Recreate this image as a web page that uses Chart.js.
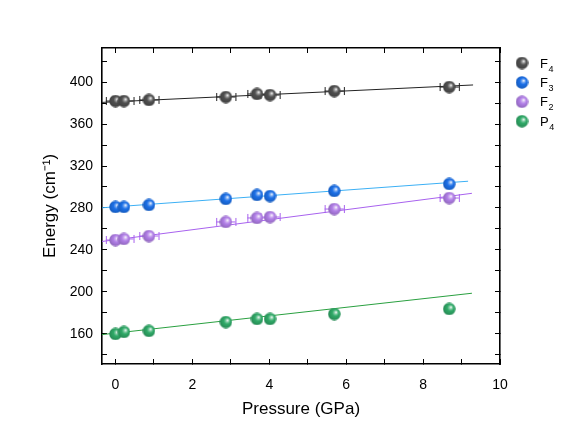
<!DOCTYPE html>
<html>
<head>
<meta charset="utf-8">
<script src="https://cdn.jsdelivr.net/npm/chart.js@4.4.1/dist/chart.umd.min.js"></script>
<style>
    html, body { margin: 0; padding: 0; background: #fff; }
    #wrap { width: 581px; height: 439px; }
</style>
</head>
<body>
<div id="wrap"><canvas id="energyChart" width="581" height="439"></canvas></div>
<script>
// ======================= Data =======================
const pressureF4 = [0, 0.22, 0.87, 2.87, 3.68, 4.02, 5.69, 8.68];
const energyF4   = [381.9, 381.9, 382.9, 385.7, 388.6, 387.6, 391.4, 395.2];
const xErrF4     = [0.25, 0.25, 0.25, 0.25, 0.25, 0.25, 0.25, 0.25];

const pressureF3 = [0, 0.22, 0.87, 2.87, 3.68, 4.02, 5.69, 8.68];
const energyF3   = [281.0, 281.0, 282.9, 288.6, 292.4, 291.4, 296.2, 302.9];

const pressureF2 = [0, 0.22, 0.87, 2.87, 3.68, 4.02, 5.69, 8.68];
const energyF2   = [249.5, 250.5, 253.3, 266.7, 270.5, 271.4, 279.0, 289.5];
const xErrF2     = [0.25, 0.25, 0.25, 0.25, 0.25, 0.25, 0.25, 0.25];

const pressureP4 = [0, 0.22, 0.87, 2.87, 3.68, 4.02, 5.69, 8.68];
const energyP4   = [160.0, 161.9, 162.9, 171.4, 174.3, 174.3, 179.0, 183.8];

// linear fits, end points
const fitXF4 = [-0.35, 9.3],  fitYF4 = [380.6, 397.2];
const fitXF3 = [-0.35, 9.17], fitYF3 = [280.2, 305.5];
const fitXF2 = [-0.35, 9.27], fitYF2 = [248.1, 294.0];
const fitXP4 = [-0.35, 9.27], fitYP4 = [159.4, 198.8];

const seriesNames = ["F", "F", "F", "P"];
const seriesSubs  = ["4", "3", "2", "4"];
const markerColors = ["#505050", "#1c70e8", "#b27fe8", "#30aa68"];
const lineColors   = ["#222222", "#3cb0f5", "#a862ee", "#2aa040"];

const xTickLabels = [0, 2, 4, 6, 8, 10];
const yTickLabels = [160, 200, 240, 280, 320, 360, 400];

// ======================= Helpers =======================
function toPoints(xs, ys) {
    return xs.map((x, i) => ({ x: x, y: ys[i] }));
}

function shade(hex, f) {
    const n = parseInt(hex.slice(1), 16);
    const r = Math.round(((n >> 16) & 255) * f);
    const g = Math.round(((n >> 8) & 255) * f);
    const b = Math.round((n & 255) * f);
    return `rgb(${r},${g},${b})`;
}

function tint(hex, f) {
    const n = parseInt(hex.slice(1), 16);
    const mix = v => Math.round(v + (255 - v) * f);
    return `rgb(${mix((n >> 16) & 255)},${mix((n >> 8) & 255)},${mix(n & 255)})`;
}

// shiny ball marker
function sphere(color, size) {
    const c = document.createElement("canvas");
    c.width = size; c.height = size;
    const g = c.getContext("2d");
    const r = size / 2;
    const grad = g.createRadialGradient(r + 1.8, r - 1.8, 0.2, r + 0.5, r - 0.5, r + 0.5);
    grad.addColorStop(0, "#ffffff");
    grad.addColorStop(0.18, tint(color, 0.45));
    grad.addColorStop(0.45, color);
    grad.addColorStop(1, shade(color, 0.8));
    g.fillStyle = grad;
    g.beginPath();
    g.arc(r, r, r - 0.3, 0, Math.PI * 2);
    g.fill();
    return c;
}

const spheres = markerColors.map(c => sphere(c, 13));

function fitSet(xs, ys, color) {
    return {
        type: "line",
        data: toPoints(xs, ys),
        borderColor: color,
        borderWidth: 1,
        pointRadius: 0,
        fill: false,
        order: 5
    };
}

function markerSet(label, xs, ys, idx, xErr) {
    return {
        type: "scatter",
        label: label,
        data: toPoints(xs, ys),
        pointStyle: spheres[idx],
        pointRadius: 6.5,
        xErr: xErr || null,
        errColor: lineColors[idx],
        order: 1
    };
}

// ======================= Plugins =======================
const errorBars = {
    id: "errorBars",
    beforeDatasetsDraw(chart) {
        const { ctx, scales: { x, y } } = chart;
        ctx.save();
        ctx.lineWidth = 1;
        chart.data.datasets.forEach(ds => {
            if (!ds.xErr) return;
            ctx.strokeStyle = ds.errColor;
            ds.data.forEach((p, i) => {
                const px1 = x.getPixelForValue(p.x - ds.xErr[i]);
                const px2 = x.getPixelForValue(p.x + ds.xErr[i]);
                const py = y.getPixelForValue(p.y);
                ctx.beginPath();
                ctx.moveTo(Math.max(px1, chart.chartArea.left), py);
                ctx.lineTo(px2, py);
                if (px1 >= chart.chartArea.left) {
                    ctx.moveTo(px1 + 0.5, py - 4);
                    ctx.lineTo(px1 + 0.5, py + 4);
                }
                ctx.moveTo(px2 + 0.5, py - 4);
                ctx.lineTo(px2 + 0.5, py + 4);
                ctx.stroke();
            });
        });
        ctx.restore();
    }
};

const sideLegend = {
    id: "sideLegend",
    afterDraw(chart) {
        const ctx = chart.ctx;
        const x0 = 522, y0 = 63, step = 19.4;
        ctx.save();
        ctx.fillStyle = "#000";
        ctx.textBaseline = "alphabetic";
        seriesNames.forEach((name, i) => {
            const cy = y0 + i * step;
            ctx.drawImage(spheres[i], x0 - 6.5, cy - 6.5);
            ctx.font = "13px 'Liberation Sans', Arial, sans-serif";
            ctx.fillText(name, 540, cy + 4.5);
            const w = ctx.measureText(name).width;
            ctx.font = "9px 'Liberation Sans', Arial, sans-serif";
            ctx.fillText(seriesSubs[i], 540 + w + 0.5, cy + 8.5);
        });
        ctx.restore();
    }
};

// ======================= Chart =======================
Chart.defaults.font.family = "'Liberation Sans', Arial, sans-serif";
Chart.defaults.color = "#000";

const xMin = -0.35, xMax = 10, yMin = 131.4, yMax = 432.4;

const tickGrid = {
    drawOnChartArea: false,
    tickLength: -5,
    tickColor: "#000",
    tickWidth: 1
};
const axisBorder = { color: "#000", width: 1.6 };

new Chart(document.getElementById("energyChart"), {
    type: "scatter",
    data: {
        datasets: [
            fitSet(fitXF4, fitYF4, lineColors[0]),
            fitSet(fitXF3, fitYF3, lineColors[1]),
            fitSet(fitXF2, fitYF2, lineColors[2]),
            fitSet(fitXP4, fitYP4, lineColors[3]),
            markerSet("F\u2084", pressureF4, energyF4, 0, xErrF4),
            markerSet("F\u2083", pressureF3, energyF3, 1),
            markerSet("F\u2082", pressureF2, energyF2, 2, xErrF2),
            markerSet("P\u2084", pressureP4, energyP4, 3)
        ]
    },
    options: {
        responsive: false,
        animation: false,
        layout: { padding: { left: 0, right: 81, top: 48, bottom: 0 } },
        plugins: {
            legend: { display: false },
            tooltip: { enabled: false }
        },
        scales: {
            x: {
                type: "linear",
                position: "bottom",
                min: xMin, max: xMax,
                grid: tickGrid,
                border: axisBorder,
                ticks: {
                    stepSize: 1,
                    includeBounds: false,
                    padding: 18,
                    maxRotation: 0,
                    autoSkip: false,
                    font: { size: 14 },
                    callback: v => xTickLabels.includes(v) ? String(v) : ""
                },
                title: {
                    display: true,
                    text: "Pressure (GPa)",
                    font: { size: 17 },
                    padding: { top: 0, bottom: 19 }
                },
                afterFit: s => { s.height = 75; }
            },
            x2: {
                type: "linear",
                position: "top",
                min: xMin, max: xMax,
                grid: tickGrid,
                border: axisBorder,
                ticks: { stepSize: 1, includeBounds: false, display: false },
                afterFit: s => { s.height = 0; }
            },
            y: {
                type: "linear",
                position: "left",
                min: yMin, max: yMax,
                grid: tickGrid,
                border: axisBorder,
                ticks: {
                    stepSize: 20,
                    includeBounds: false,
                    padding: 14,
                    autoSkip: false,
                    font: { size: 14 },
                    callback: v => yTickLabels.includes(v) ? String(v) : ""
                },
                title: {
                    display: true,
                    text: "Energy (cm\u207B\u00B9)",
                    font: { size: 17 },
                    padding: { top: 40, bottom: 0 }
                },
                afterFit: s => { s.width = 102; }
            },
            y2: {
                type: "linear",
                position: "right",
                min: yMin, max: yMax,
                grid: tickGrid,
                border: axisBorder,
                ticks: { stepSize: 20, includeBounds: false, display: false },
                afterFit: s => { s.width = 0; }
            }
        }
    },
    plugins: [errorBars, sideLegend]
});
</script>
</body>
</html>
